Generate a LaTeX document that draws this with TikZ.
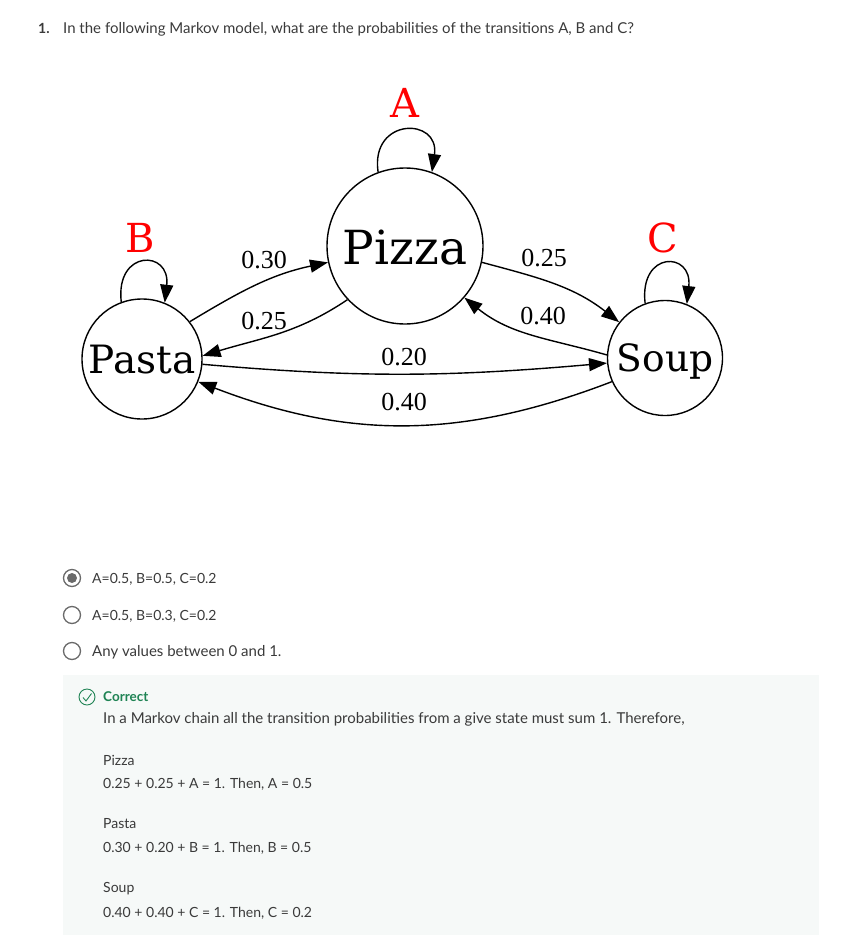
\documentclass[tikz,border=0pt]{standalone}
\usepackage{fontspec}
\setmainfont{Lato}
\newfontfamily\slabfont{DejaVu Serif}
\newfontfamily\numfont{Liberation Serif}
\usetikzlibrary{arrows.meta}
\definecolor{ink}{HTML}{000000}
\definecolor{txt}{HTML}{3A3A3A}
\definecolor{okgreen}{HTML}{1F8354}
\definecolor{okbg}{HTML}{F6F9F8}
\definecolor{radio}{HTML}{6A6A6A}

\begin{document}
\begin{tikzpicture}[
    x=1pt, y=-1pt,
    state/.style={ink, draw, circle, line width=1.4pt, inner sep=0pt, text depth=0pt},
    trans/.style={ink, line width=1.4pt, -{Triangle[length=18pt,width=13pt]}},
    prob/.style={font=\numfont\fontsize{26}{26}\selectfont},
    loopname/.style={text=red, font=\slabfont\fontsize{40}{40}\selectfont},
    ui/.style={anchor=base west, inner sep=0pt, text=txt,
        font=\fontsize{14}{14}\selectfont},
    prose/.style={ui, font=\fontsize{15}{15}\selectfont},
    radiobox/.style={draw=radio, line width=1.3pt},
]
\useasboundingbox (0,0) rectangle (843,948);

% Question
\node[ui, font=\bfseries\fontsize{14}{14}\selectfont] (num) at (38,33) {1.};
\node[prose] (question) at (63,33)
    {In the following Markov model, what are the probabilities of the transitions A, B and C?};

% States
\node[state, minimum size=156pt, text height=36pt,
    font=\slabfont\fontsize{47}{47}\selectfont] (pizza) at (405,246) {Pizza};
\node[state, minimum size=120pt, text height=28pt,
    font=\slabfont\fontsize{39}{39}\selectfont] (pasta) at (142,359) {Pasta};
\node[state, minimum size=115pt, text height=26pt,
    font=\slabfont\fontsize{37.5}{37.5}\selectfont] (soup) at (665,358) {Soup};

% Self loops
\draw[trans] (pizza.110) .. controls +(-8,-55) and +(8,-55) .. (pizza.70);
\draw[trans] (pasta.110) .. controls +(-6,-53) and +(6,-53) .. (pasta.68);
\draw[trans] (soup.110) .. controls +(-6,-53) and +(6,-53) .. (soup.68);
\node[loopname] (A) at (405,103) {A};
\node[loopname] (B) at (140,238) {B};
\node[loopname] (C) at (663,238) {C};

% Transitions between states
\draw[trans] (pasta.38) to[out=31, in=192] (pizza.192);
\draw[trans] (pizza.223) to[out=214, in=17] (pasta.3);
\draw[trans] (pizza.-12) to[out=-15, in=142] (soup.142);
\draw[trans] (soup.177) to[out=164, in=-39] (pizza.-41);
\draw[trans] (pasta.-5) to[out=-5, in=185] (soup.185);
\draw[trans] (soup.204) to[out=201, in=-21] (pasta.-22);

% Probabilities
\node[prob] (p1) at (264,260) {0.30};
\node[prob] (p2) at (264,321) {0.25};
\node[prob] (p3) at (544,258) {0.25};
\node[prob] (p4) at (543,316) {0.40};
\node[prob] (p5) at (404,357) {0.20};
\node[prob] (p6) at (404,402) {0.40};

% Answer options
\draw[radiobox] (72,578) circle (8.5);
\fill[radio] (72,578) circle (5);
\draw[radiobox] (72,615) circle (8.5);
\draw[radiobox] (72,651) circle (8.5);
\node[ui] (opt1) at (92,583) {A=0.5, B=0.5, C=0.2};
\node[ui] (opt2) at (92,620) {A=0.5, B=0.3, C=0.2};
\node[prose] (opt3) at (92,656) {Any values between 0 and 1.};

% Feedback box
\fill[okbg] (63,675) rectangle (819,935);
\draw[okgreen, line width=0.9pt] (87,697) circle (8);
\draw[okgreen, line width=0.9pt] (83,697.5) -- (86,701) -- (91.5,693.5);
\node[ui, text=okgreen, font=\bfseries\fontsize{13.5}{13.5}\selectfont] (correct) at (103,701) {Correct};
\node[prose] (expl) at (103,723)
    {In a Markov chain all the transition probabilities from a give state must sum 1. Therefore,};
\node[ui] (h1) at (103,765) {Pizza};
\node[ui] (l1) at (103,788) {0.25 + 0.25 + A = 1. Then, A = 0.5};
\node[ui] (h2) at (103,828) {Pasta};
\node[ui] (l2) at (103,852) {0.30 + 0.20 + B = 1. Then, B = 0.5};
\node[ui] (h3) at (103,892) {Soup};
\node[ui] (l3) at (103,917) {0.40 + 0.40 + C = 1. Then, C = 0.2};

\end{tikzpicture}
\end{document}
